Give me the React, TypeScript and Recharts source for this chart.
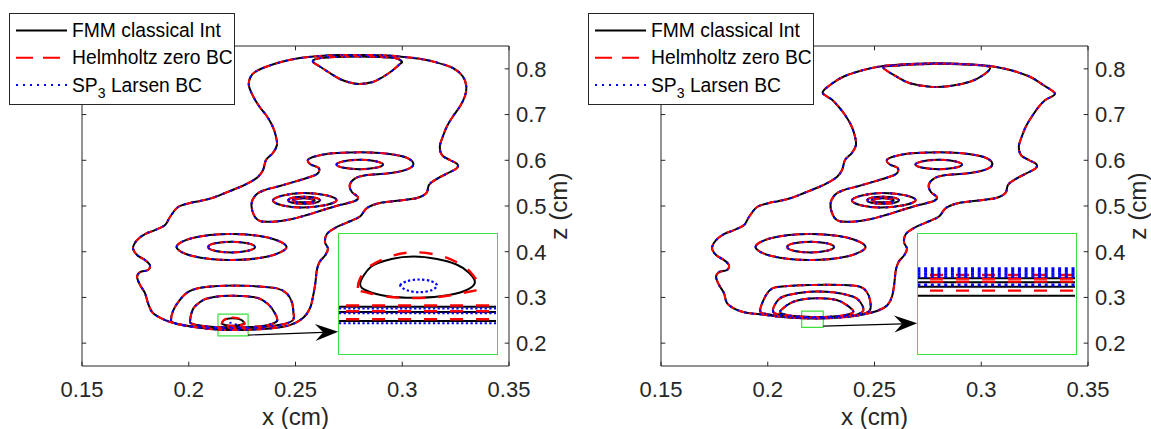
import React from "react";
import { LineChart, Line, XAxis, YAxis, ReferenceLine, ReferenceArea } from "recharts";

type Pt = [number, number];

const xTicks = [0.15, 0.2, 0.25, 0.3, 0.35];
const zTicks = [0.2, 0.3, 0.4, 0.5, 0.6, 0.7, 0.8];

// contour lines, (x, z) in cm
const outerLeft: Pt[] = [
  [0.1889, 0.2505], [0.1832, 0.2658], [0.1809, 0.2877], [0.1795, 0.3096], [0.1772, 0.3271], [0.1758, 0.3446],
  [0.1772, 0.3555], [0.1809, 0.3599], [0.1818, 0.3708], [0.1795, 0.3818], [0.1758, 0.3927], [0.1739, 0.408],
  [0.1758, 0.4255], [0.1795, 0.4387], [0.1842, 0.4474], [0.1889, 0.4583], [0.1912, 0.4759], [0.195, 0.4977],
  [0.2006, 0.5065], [0.2053, 0.5109], [0.2109, 0.5174], [0.217, 0.5284], [0.224, 0.5415], [0.2287, 0.5524],
  [0.2324, 0.5634], [0.2348, 0.5787], [0.2362, 0.6006], [0.2394, 0.6159], [0.2413, 0.6334], [0.2408, 0.6531],
  [0.239, 0.6771], [0.2362, 0.699], [0.2329, 0.7187], [0.2301, 0.7406], [0.2282, 0.7625], [0.2287, 0.78],
  [0.231, 0.7931], [0.2366, 0.8051], [0.2441, 0.8161], [0.2521, 0.8237], [0.2614, 0.8281], [0.2708, 0.8303],
  [0.2834, 0.8303], [0.2928, 0.8292], [0.2989, 0.827], [0.3073, 0.8226], [0.3144, 0.8161], [0.3237, 0.8019],
  [0.3284, 0.7833], [0.33, 0.7614], [0.3293, 0.7395], [0.327, 0.7176], [0.3237, 0.6957], [0.3209, 0.6739],
  [0.319, 0.652], [0.3176, 0.6301], [0.3186, 0.6115], [0.3223, 0.6006], [0.3258, 0.5918], [0.3254, 0.582],
  [0.3209, 0.571], [0.3153, 0.5568], [0.3125, 0.5459], [0.3113, 0.5284], [0.3069, 0.5174], [0.2989, 0.512],
  [0.2895, 0.5065], [0.2834, 0.4955], [0.2802, 0.4769], [0.2741, 0.4638], [0.2685, 0.4518], [0.2647, 0.4387],
  [0.2638, 0.4211], [0.2652, 0.4069], [0.264, 0.3927], [0.2614, 0.3785], [0.26, 0.3599], [0.2593, 0.3314],
  [0.2582, 0.3019], [0.2568, 0.2767], [0.2535, 0.2549], [0.2474, 0.2395], [0.238, 0.232], [0.2249, 0.229],
  [0.2156, 0.229], [0.2043, 0.234], [0.195, 0.2417],
];

const outerRight: Pt[] = [
  [0.19, 0.2665], [0.185, 0.274], [0.1809, 0.2877], [0.1795, 0.3096], [0.1772, 0.3271], [0.1758, 0.3446],
  [0.1772, 0.3555], [0.1809, 0.3599], [0.1818, 0.3708], [0.1795, 0.3818], [0.1758, 0.3927], [0.1739, 0.408],
  [0.1758, 0.4255], [0.1795, 0.4387], [0.1842, 0.4474], [0.1889, 0.4583], [0.1912, 0.4759], [0.195, 0.4977],
  [0.2006, 0.5065], [0.2053, 0.5109], [0.2109, 0.5174], [0.217, 0.5284], [0.224, 0.5415], [0.2287, 0.5524],
  [0.2324, 0.5634], [0.2348, 0.5787], [0.2362, 0.6006], [0.2394, 0.6159], [0.2413, 0.6334], [0.2408, 0.6531],
  [0.239, 0.6771], [0.2362, 0.699], [0.2329, 0.7187], [0.23, 0.733], [0.2257, 0.7478], [0.2292, 0.7647],
  [0.2354, 0.7828], [0.2448, 0.7975], [0.2541, 0.8062], [0.2666, 0.8106], [0.2791, 0.8121], [0.2916, 0.8106],
  [0.3041, 0.8062], [0.3135, 0.7975], [0.3228, 0.7828], [0.329, 0.7647], [0.3345, 0.746], [0.33, 0.732],
  [0.327, 0.7176], [0.3237, 0.6957], [0.3209, 0.6739], [0.319, 0.652], [0.3176, 0.6301], [0.3186, 0.6115],
  [0.3223, 0.6006], [0.3258, 0.5918], [0.3254, 0.582], [0.3209, 0.571], [0.3153, 0.5568], [0.3125, 0.5459],
  [0.3113, 0.5284], [0.3069, 0.5174], [0.2989, 0.512], [0.2895, 0.5065], [0.2834, 0.4955], [0.2802, 0.4769],
  [0.2741, 0.4638], [0.2685, 0.4518], [0.2647, 0.4387], [0.2638, 0.4211], [0.2652, 0.4069], [0.264, 0.3927],
  [0.2614, 0.3785], [0.26, 0.3599], [0.2593, 0.3314], [0.2582, 0.3019], [0.256, 0.283], [0.252, 0.272],
  [0.246, 0.264], [0.2385, 0.258], [0.2276, 0.2545], [0.2167, 0.2545], [0.2057, 0.2577], [0.1964, 0.263],
];

const capLeft: Pt[] = [
  [0.2581, 0.8161], [0.2614, 0.8051], [0.2661, 0.7909], [0.2708, 0.7778], [0.2754, 0.7701], [0.2801, 0.7669],
  [0.2862, 0.7712], [0.2909, 0.7822], [0.2951, 0.7953], [0.2989, 0.8106], [0.2998, 0.8161], [0.2965, 0.8237],
  [0.2895, 0.8259], [0.2792, 0.827], [0.2684, 0.8259], [0.2605, 0.8226],
];

const capRight: Pt[] = [
  [0.2541, 0.803], [0.2604, 0.7828], [0.2666, 0.7684], [0.276, 0.7609], [0.2854, 0.7625], [0.2947, 0.7719],
  [0.301, 0.7866], [0.3041, 0.803], [0.298, 0.8082], [0.2854, 0.8108], [0.272, 0.8103], [0.261, 0.8075],
];

const sCurve: Pt[] = [
  [0.2294, 0.5043], [0.2314, 0.524], [0.2356, 0.5349], [0.2427, 0.5437], [0.2506, 0.5546], [0.2567, 0.5634],
  [0.2604, 0.571], [0.2609, 0.5831], [0.2572, 0.5907], [0.2558, 0.6006], [0.259, 0.6082], [0.2661, 0.6148],
  [0.2754, 0.617], [0.2848, 0.617], [0.2941, 0.6137], [0.3012, 0.6071], [0.3049, 0.5962], [0.3044, 0.5853],
  [0.2998, 0.5765], [0.2927, 0.571], [0.2834, 0.5677], [0.2778, 0.5601], [0.2754, 0.5459], [0.2764, 0.5306],
  [0.2792, 0.5196], [0.2778, 0.5109], [0.2707, 0.5021], [0.2628, 0.4912], [0.2553, 0.4802], [0.2473, 0.4704],
  [0.2394, 0.4656], [0.2333, 0.4671], [0.2305, 0.4802],
];

const ringTop: Pt[] = [
  [0.2692, 0.5907], [0.2726, 0.5979], [0.2801, 0.601], [0.2876, 0.5979], [0.291, 0.5907], [0.2876, 0.5835],
  [0.2801, 0.5804], [0.2726, 0.5835],
];
const ringMidOuter: Pt[] = [
  [0.2394, 0.512], [0.2441, 0.5229], [0.2534, 0.5284], [0.2637, 0.524], [0.2693, 0.5131], [0.2642, 0.5021],
  [0.2534, 0.4966], [0.2441, 0.501],
];
const ringMidMiddle: Pt[] = [
  [0.2466, 0.5124], [0.2485, 0.5179], [0.2539, 0.5203], [0.2593, 0.5179], [0.2614, 0.5124], [0.2593, 0.5069],
  [0.2539, 0.5047], [0.2485, 0.5069],
];
const ringMidInner: Pt[] = [
  [0.2487, 0.5124], [0.2502, 0.5152], [0.2539, 0.5168], [0.2576, 0.5152], [0.259, 0.5124], [0.2576, 0.5095],
  [0.2539, 0.508], [0.2502, 0.5095],
];
const ringLowOuter: Pt[] = [
  [0.1943, 0.4102], [0.2018, 0.4299], [0.2193, 0.4387], [0.237, 0.431], [0.2458, 0.4102], [0.237, 0.3894],
  [0.2193, 0.3818], [0.2018, 0.3905],
];
const ringLowInner: Pt[] = [
  [0.2091, 0.4102], [0.2122, 0.4183], [0.2201, 0.4218], [0.2277, 0.4183], [0.231, 0.4102], [0.2277, 0.4019],
  [0.2201, 0.3984], [0.2122, 0.4019],
];

const domeLeftA: Pt[] = [
  [0.1917, 0.2505], [0.1926, 0.2702], [0.1954, 0.2921], [0.1996, 0.3118], [0.2062, 0.3216], [0.217, 0.3255],
  [0.2296, 0.3249], [0.2413, 0.3198], [0.2459, 0.3085], [0.2483, 0.2899], [0.249, 0.268], [0.2488, 0.2505],
  [0.2436, 0.2406], [0.2342, 0.2352], [0.2244, 0.2326], [0.2151, 0.2326], [0.2053, 0.2345], [0.1968, 0.2395],
  [0.1926, 0.245],
];
const domeLeftB: Pt[] = [
  [0.2006, 0.2483], [0.202, 0.2746], [0.2053, 0.2899], [0.2085, 0.2975], [0.2155, 0.303], [0.2249, 0.303],
  [0.2324, 0.2986], [0.2371, 0.2855], [0.2403, 0.2658], [0.2413, 0.2483], [0.2362, 0.2385], [0.2287, 0.2352],
  [0.2202, 0.2345], [0.2122, 0.2352], [0.2053, 0.2385], [0.2015, 0.2428],
];
const domeRightA: Pt[] = [
  [0.1965, 0.269], [0.198, 0.2942], [0.2011, 0.3161], [0.2057, 0.3234], [0.2198, 0.3271], [0.2354, 0.3271],
  [0.2432, 0.3234], [0.2463, 0.3124], [0.2479, 0.2942], [0.2479, 0.2724], [0.244, 0.2625], [0.238, 0.2585],
  [0.2276, 0.2555], [0.2167, 0.2555], [0.206, 0.2585], [0.2, 0.2635],
];
const domeRightB: Pt[] = [
  [0.2025, 0.269], [0.2048, 0.2942], [0.2095, 0.3052], [0.2198, 0.3124], [0.2307, 0.3111], [0.2401, 0.3015],
  [0.2432, 0.2905], [0.2448, 0.2724], [0.242, 0.263], [0.235, 0.259], [0.225, 0.2565], [0.215, 0.2565],
  [0.2075, 0.26],
];
const domeRightC: Pt[] = [
  [0.2057, 0.2687], [0.2104, 0.287], [0.2167, 0.2958], [0.2245, 0.298], [0.2323, 0.2942], [0.237, 0.2833],
  [0.2401, 0.2687], [0.236, 0.261], [0.229, 0.2578], [0.22, 0.2572], [0.212, 0.2592], [0.208, 0.263],
];

// the small closed level near (0.22, 0.245), differs per model
const tinyFmm: Pt[] = [
  [0.2156, 0.2438], [0.2166, 0.2506], [0.2184, 0.2536], [0.2204, 0.2546], [0.2225, 0.2536], [0.2243, 0.2513],
  [0.2254, 0.248], [0.2259, 0.244], [0.2249, 0.2407], [0.2228, 0.2387], [0.2204, 0.2381], [0.2181, 0.2387],
  [0.2163, 0.2407],
];
const tinyHelm: Pt[] = [
  [0.2154, 0.242], [0.2161, 0.2493], [0.2181, 0.2543], [0.2204, 0.2563], [0.2228, 0.2549], [0.2247, 0.2513],
  [0.2257, 0.2473], [0.2263, 0.242], [0.2249, 0.2401], [0.2228, 0.2385], [0.2204, 0.238], [0.2181, 0.2385],
  [0.2163, 0.2401],
];
const tinySp3: Pt[] = [
  [0.2192, 0.243], [0.2198, 0.2447], [0.2209, 0.2454], [0.222, 0.2447], [0.2225, 0.243], [0.222, 0.2411],
  [0.2209, 0.2403], [0.2198, 0.2411],
];

// zoom windows and the bottom levels crossing them
const zoomLeft = { x: [0.2137, 0.2278] as [number, number], z: [0.216, 0.2636] as [number, number] };
const zoomRight = { x: [0.2159, 0.226] as [number, number], z: [0.2345, 0.2702] as [number, number] };

const bottomLeftFmm: Pt[][] = [[[0.212, 0.2345], [0.23, 0.2345]], [[0.212, 0.2324], [0.23, 0.2324]], [[0.212, 0.2288], [0.23, 0.2288]]];
const bottomLeftHelm: Pt[][] = [[[0.212, 0.235], [0.23, 0.235]], [[0.212, 0.2327], [0.23, 0.2327]], [[0.212, 0.2295], [0.23, 0.2295]]];
const bottomLeftSp3: Pt[][] = [[[0.212, 0.2338], [0.23, 0.2338]], [[0.212, 0.2319], [0.23, 0.2319]], [[0.212, 0.2279], [0.23, 0.2279]]];

const bottomRightFmm: Pt[][] = [[[0.215, 0.2569], [0.227, 0.2569]], [[0.215, 0.2557], [0.227, 0.2557]], [[0.215, 0.2544], [0.227, 0.2544]], [[0.215, 0.2517], [0.227, 0.2517]]];
const bottomRightHelm: Pt[][] = [[[0.215, 0.2579], [0.227, 0.2579]], [[0.215, 0.2568], [0.227, 0.2568]], [[0.215, 0.2559], [0.227, 0.2559]], [[0.215, 0.2532], [0.227, 0.2532]]];
const bottomRightSp3: Pt[][] = [[[0.215, 0.2598], [0.227, 0.2598]], [[0.215, 0.259], [0.227, 0.259]], [[0.215, 0.2582], [0.227, 0.2582]], [[0.215, 0.2574], [0.227, 0.2574]], [[0.215, 0.2549], [0.227, 0.2549]]];

const arrowLeft: Pt[] = [[0.2278, 0.2177], [0.27, 0.2249]];
const arrowRight: Pt[] = [[0.226, 0.2374], [0.27, 0.2433]];

const X_DOMAIN: [number, number] = [0.15, 0.35];
const Z_DOMAIN: [number, number] = [0.15, 0.85];
const PLOT_W = 427;
const PLOT_H = 320;
const AXIS = "#262626";
const GREEN = "#3de03d";
const FONT = '"Liberation Sans", Arial, Helvetica, sans-serif';

const FMM = { stroke: "#000000", strokeWidth: 2 };
const HELM = { stroke: "#ff0000", strokeWidth: 2, strokeDasharray: "8 5" };
const SP3 = { stroke: "#0000ff", strokeWidth: 2, strokeDasharray: "2 6" };

const toRows = (pts: Pt[]) => pts.map(([x, z]) => ({ x, z }));

// closed Catmull-Rom, handed to recharts as a d3 curve factory
function makeSpline(closed: boolean) {
  return (ctx: any) => {
    let pts: number[][] = [];
    return {
      areaStart() {},
      areaEnd() {},
      lineStart() {
        pts = [];
      },
      point(x: number, y: number) {
        pts.push([+x, +y]);
      },
      lineEnd() {
        const n = pts.length;
        if (!n) return;
        ctx.moveTo(pts[0][0], pts[0][1]);
        const at = (i: number) => (closed ? pts[(i + n) % n] : pts[Math.max(0, Math.min(n - 1, i))]);
        const segs = closed ? n : n - 1;
        for (let i = 0; i < segs; i++) {
          const p0 = at(i - 1), p1 = at(i), p2 = at(i + 1), p3 = at(i + 2);
          ctx.bezierCurveTo(
            p1[0] + (p2[0] - p0[0]) / 6, p1[1] + (p2[1] - p0[1]) / 6,
            p2[0] - (p3[0] - p1[0]) / 6, p2[1] - (p3[1] - p1[1]) / 6,
            p2[0], p2[1]
          );
        }
        if (closed) ctx.closePath();
      },
    };
  };
}
const closedSpline = makeSpline(true);

function drawSet(curves: Pt[][], style: any, tag: string) {
  return curves.map((c, i) => (
    <Line
      key={`${tag}-${i}`}
      data={toRows(c)}
      dataKey="z"
      type={c.length > 2 ? (closedSpline as any) : "linear"}
      dot={false}
      activeDot={false}
      isAnimationActive={false}
      {...style}
    />
  ));
}

const ArrowShape = (p: any) => {
  const { x1, y1, x2, y2 } = p;
  const dx = x2 - x1, dy = y2 - y1;
  const len = Math.hypot(dx, dy) || 1;
  const ux = dx / len, uy = dy / len;
  const L = 23, W = 8.5, N = 15;
  const bx = x2 - ux * L, by = y2 - uy * L;
  const nx = x2 - ux * N, ny = y2 - uy * N;
  const head = [[x2, y2], [bx - uy * W, by + ux * W], [nx, ny], [bx + uy * W, by - ux * W]];
  return (
    <g>
      <line x1={x1} y1={y1} x2={nx} y2={ny} stroke="#000" strokeWidth={1.2} />
      <polygon points={head.map((q) => q.join(",")).join(" ")} fill="#000" />
    </g>
  );
};

function LegendBox() {
  const rows = [
    { y: 17.5, style: FMM, dash: undefined as string | undefined },
    { y: 44.8, style: HELM, dash: "17 10" },
    { y: 72.1, style: SP3, dash: "2 5" },
  ];
  return (
    <svg width={226} height={92} style={{ position: "absolute", left: 9, top: 13 }}>
      <rect x={0.5} y={0.5} width={225} height={91} fill="#fff" stroke={AXIS} />
      {rows.map((r, i) => (
        <line key={i} x1={7} x2={58} y1={r.y} y2={r.y} stroke={r.style.stroke} strokeWidth={2} strokeDasharray={r.dash} />
      ))}
      <g fontFamily={FONT} fontSize={19.3} fill="#000">
        <text x={63} y={24}>FMM classical Int</text>
        <text x={63} y={51.3}>Helmholtz zero BC</text>
        <text x={63} y={78.6}>
          SP<tspan dy={6} fontSize={14}>3</tspan>
          <tspan dy={-6}> Larsen BC</tspan>
        </text>
      </g>
    </svg>
  );
}

interface PanelProps {
  left: number;
  shared: Pt[][];
  fmm: Pt[][];
  helm: Pt[][];
  sp3: Pt[][];
  zoom: { x: [number, number]; z: [number, number] };
  arrow: Pt[];
  insetFmm: Pt[][];
  insetHelm: Pt[][];
  insetSp3: Pt[][];
  insetSp3Style: { strokeWidth: number; strokeDasharray: string };
}

function Panel(props: PanelProps) {
  const { left, shared, fmm, helm, sp3, zoom, arrow } = props;
  const xTickLen = (4.3 * (X_DOMAIN[1] - X_DOMAIN[0])) / PLOT_W;
  const zTickLen = (4.3 * (Z_DOMAIN[1] - Z_DOMAIN[0])) / PLOT_H;
  const tickStyle = { fontSize: 22, fill: AXIS, fontFamily: FONT };

  return (
    <div style={{ position: "absolute", left, top: 0, width: 572, height: 429 }}>
      <LineChart width={572} height={429} margin={{ top: 46, right: 0, bottom: 0, left: 82 }}>
        <XAxis
          type="number"
          dataKey="x"
          domain={X_DOMAIN}
          ticks={xTicks}
          interval={0}
          allowDataOverflow
          height={63}
          tickSize={0}
          tickMargin={15}
          tickLine={false}
          axisLine={{ stroke: AXIS }}
          tick={tickStyle}
        />
        <YAxis
          type="number"
          orientation="right"
          domain={Z_DOMAIN}
          ticks={zTicks}
          interval={0}
          allowDataOverflow
          width={63}
          tickSize={0}
          tickMargin={7}
          tickLine={false}
          axisLine={{ stroke: AXIS }}
          tick={tickStyle}
        />
        <ReferenceLine y={Z_DOMAIN[1]} stroke={AXIS} ifOverflow="visible" />
        <ReferenceLine x={X_DOMAIN[0]} stroke={AXIS} ifOverflow="visible" />
        {xTicks.map((t) => (
          <ReferenceLine key={`xb${t}`} segment={[{ x: t, y: Z_DOMAIN[0] }, { x: t, y: Z_DOMAIN[0] + zTickLen }]} stroke={AXIS} ifOverflow="visible" />
        ))}
        {xTicks.map((t) => (
          <ReferenceLine key={`xt${t}`} segment={[{ x: t, y: Z_DOMAIN[1] }, { x: t, y: Z_DOMAIN[1] - zTickLen }]} stroke={AXIS} ifOverflow="visible" />
        ))}
        {zTicks.map((t) => (
          <ReferenceLine key={`zl${t}`} segment={[{ x: X_DOMAIN[0], y: t }, { x: X_DOMAIN[0] + xTickLen, y: t }]} stroke={AXIS} ifOverflow="visible" />
        ))}
        {zTicks.map((t) => (
          <ReferenceLine key={`zr${t}`} segment={[{ x: X_DOMAIN[1], y: t }, { x: X_DOMAIN[1] - xTickLen, y: t }]} stroke={AXIS} ifOverflow="visible" />
        ))}
        {drawSet([...shared, ...fmm], FMM, "fmm")}
        {drawSet([...shared, ...helm], HELM, "helm")}
        {drawSet([...shared, ...sp3], SP3, "sp3")}
        <ReferenceArea x1={zoom.x[0]} x2={zoom.x[1]} y1={zoom.z[0]} y2={zoom.z[1]} fill="none" stroke={GREEN} strokeWidth={1.2} ifOverflow="visible" />
        <ReferenceLine
          segment={[{ x: arrow[0][0], y: arrow[0][1] }, { x: arrow[1][0], y: arrow[1][1] }]}
          shape={ArrowShape}
          ifOverflow="visible"
        />
      </LineChart>

      <div
        style={{
          position: "absolute", left: 338, top: 233, width: 160, height: 122,
          border: `1.2px solid ${GREEN}`, boxSizing: "border-box", background: "#fff",
        }}
      >
        <LineChart width={157} height={119} margin={{ top: 0, right: 0, bottom: 0, left: 0 }}>
          <XAxis type="number" dataKey="x" domain={zoom.x} allowDataOverflow hide />
          <YAxis type="number" domain={zoom.z} allowDataOverflow hide />
          {drawSet(props.insetFmm, FMM, "ifmm")}
          {drawSet(props.insetHelm, { ...HELM, strokeWidth: 2.4, strokeDasharray: "13 13" }, "ihelm")}
          {drawSet(props.insetSp3, { ...SP3, ...props.insetSp3Style }, "isp3")}
        </LineChart>
      </div>

      <LegendBox />

      <div
        style={{
          position: "absolute", left: 82, top: 405, width: PLOT_W, textAlign: "center",
          fontFamily: FONT, fontSize: 24.2, lineHeight: "24.2px", color: AXIS,
        }}
      >
        x (cm)
      </div>
      <div
        style={{
          position: "absolute", left: 559 - 60, top: 206 - 12.1, width: 120, height: 24.2, textAlign: "center",
          fontFamily: FONT, fontSize: 24.2, lineHeight: "24.2px", color: AXIS, transform: "rotate(-90deg)",
          whiteSpace: "nowrap",
        }}
      >
        z (cm)
      </div>
    </div>
  );
}

const sharedRings = [sCurve, ringTop, ringMidOuter, ringMidMiddle, ringMidInner, ringLowOuter, ringLowInner];

export default function App() {
  return (
    <div style={{ position: "absolute", left: 0, top: 0, width: 1151, height: 429, overflow: "hidden", background: "#fff" }}>
      <Panel
        left={0}
        shared={[outerLeft, capLeft, ...sharedRings, domeLeftA, domeLeftB]}
        fmm={[tinyFmm]}
        helm={[tinyHelm]}
        sp3={[tinySp3]}
        zoom={zoomLeft}
        arrow={arrowLeft}
        insetFmm={[tinyFmm, ...bottomLeftFmm]}
        insetHelm={[tinyHelm, ...bottomLeftHelm]}
        insetSp3={[tinySp3, ...bottomLeftSp3]}
        insetSp3Style={{ strokeWidth: 2.2, strokeDasharray: "2.3 2.4" }}
      />
      <Panel
        left={579}
        shared={[outerRight, capRight, ...sharedRings, domeRightA, domeRightB, domeRightC]}
        fmm={[]}
        helm={[]}
        sp3={[]}
        zoom={zoomRight}
        arrow={arrowRight}
        insetFmm={bottomRightFmm}
        insetHelm={bottomRightHelm}
        insetSp3={bottomRightSp3}
        insetSp3Style={{ strokeWidth: 2.8, strokeDasharray: "3 3.7" }}
      />
    </div>
  );
}
